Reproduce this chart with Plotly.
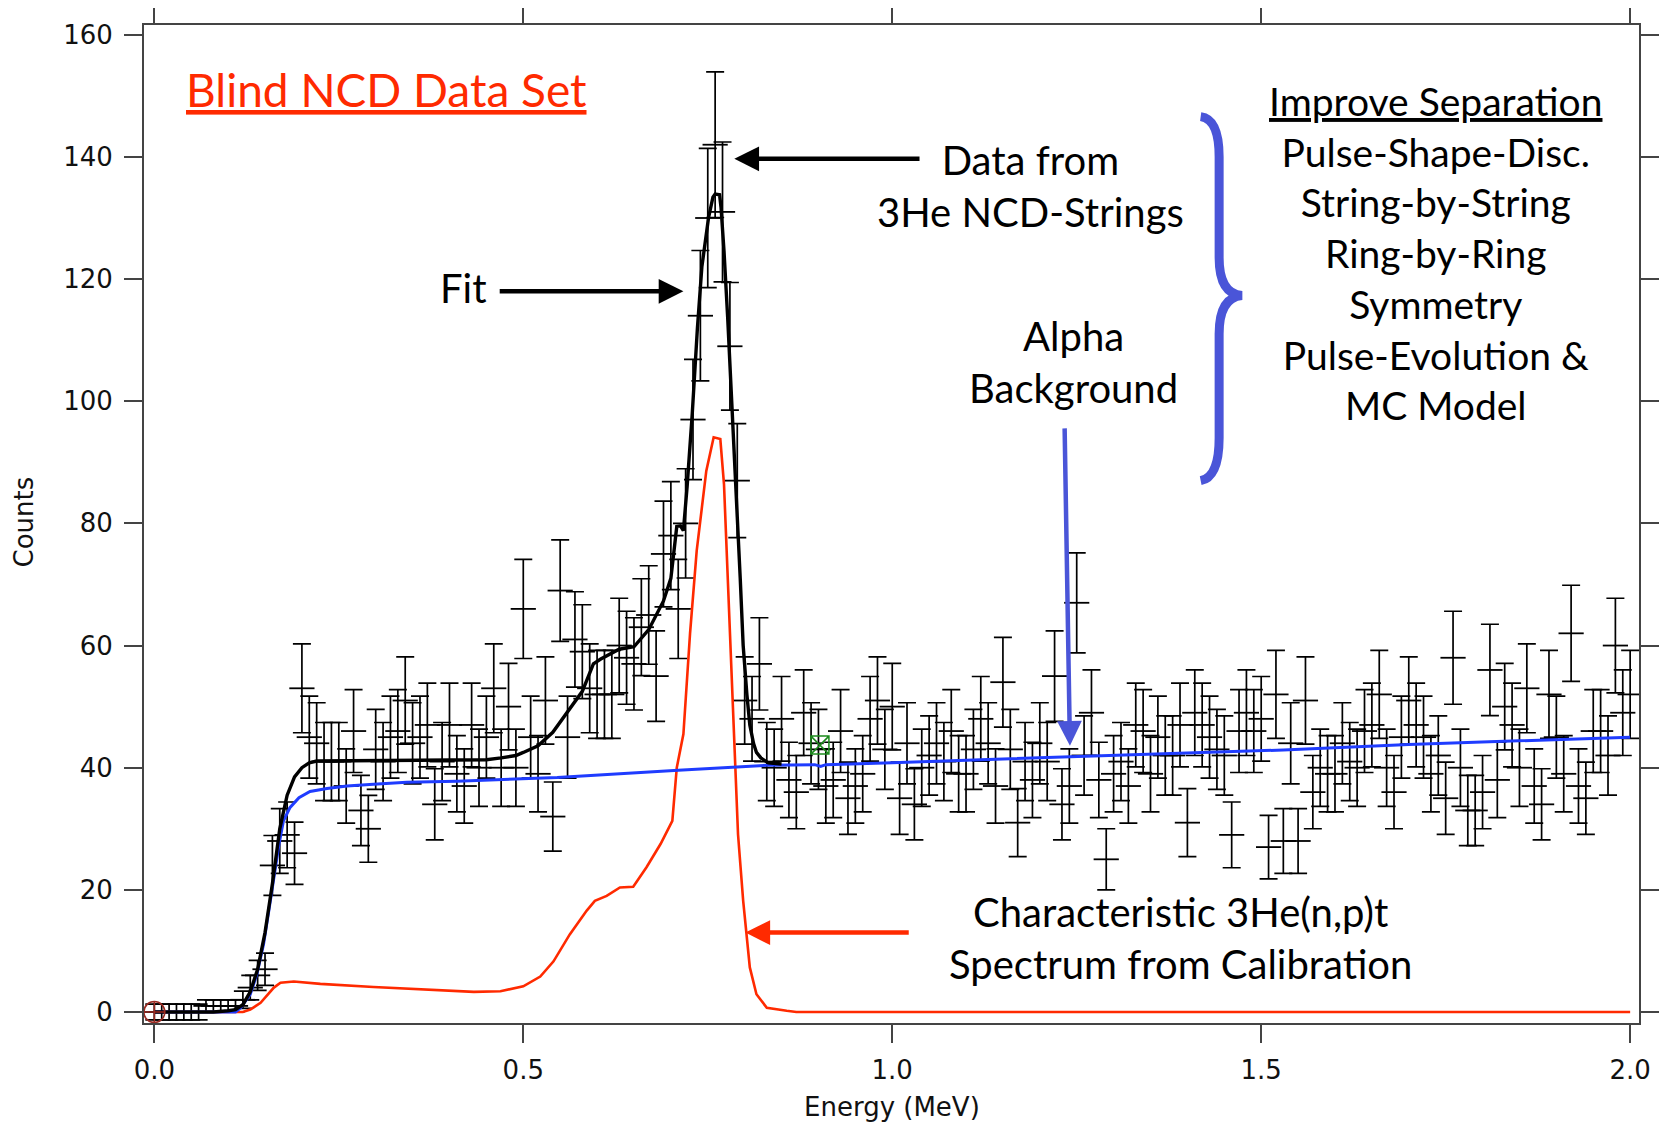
import numpy as np
import plotly.graph_objects as go

# ---------------- data ----------------
energy = [round(0.01 * k, 2) for k in range(201)]  # bin positions, MeV
counts = [
    0, 0, 0, 0, 0, 0, 0, 1, 1, 1,            # 0.00-0.09
    1, 1, 2, 4, 6, 7, 24, 28, 29, 26,        # 0.10-0.19
    53, 45, 44, 41, 41, 41, 37, 46, 33, 30,  # 0.20-0.29
    43, 41, 45, 46, 51, 44, 45, 47, 34, 41,  # 0.30-0.39
    47, 39, 37, 47, 40, 45, 53, 40, 50, 40,  # 0.40-0.49
    66, 45, 39, 51, 32, 69, 45, 61, 59, 53,  # 0.50-0.59
    52, 52, 52, 60, 58, 57, 63, 65, 55, 75,  # 0.60-0.69
    78, 66, 80, 97, 114, 130, 142, 131, 109, 87,  # 0.70-0.79
    51, 48, 57, 41, 40, 48, 38, 36, 49, 44,  # 0.80-0.89
    43, 37, 38, 46, 35, 37, 39, 48, 51, 43,  # 0.90-0.99
    50, 35, 44, 34, 40, 42, 44, 41, 46, 39,  # 1.00-1.09
    39, 43, 48, 44, 37, 54, 43, 31, 41, 38,  # 1.10-1.19
    44, 41, 55, 34, 37, 67, 42, 49, 38, 25,  # 1.20-1.29
    39, 41, 37, 47, 46, 39, 45, 42, 42, 47,  # 1.30-1.39
    31, 49, 47, 45, 43, 42, 29, 46, 49, 46,  # 1.40-1.49
    48, 27, 52, 28, 44, 28, 51, 36, 40, 39,  # 1.50-1.59
    39, 44, 41, 40, 46, 47, 52, 40, 36, 45,  # 1.60-1.69
    51, 47, 45, 39, 42, 35, 58, 40, 33, 33,  # 1.70-1.79
    36, 56, 38, 50, 47, 40, 53, 37, 34, 52,  # 1.80-1.89
    45, 39, 62, 37, 35, 46, 46, 42, 60, 49,  # 1.90-1.99
    52,                                      # 2.00
]

# Fit (black)
fit_e = [0.00, 0.08, 0.10, 0.11, 0.12, 0.13, 0.14, 0.15, 0.16, 0.17, 0.18, 0.19,
         0.20, 0.21, 0.22, 0.30, 0.40, 0.45, 0.47, 0.49, 0.50, 0.52, 0.54, 0.56,
         0.58, 0.595, 0.605, 0.63, 0.65, 0.67, 0.69, 0.70, 0.705, 0.708, 0.713,
         0.717, 0.722, 0.729, 0.736, 0.742, 0.751, 0.757, 0.760, 0.766, 0.768,
         0.772, 0.777, 0.781, 0.785, 0.790, 0.794, 0.798, 0.803, 0.807, 0.812,
         0.816, 0.822, 0.832, 0.85]
fit_y = [0, 0, 0.2, 0.4, 1.2, 3.3, 7, 13, 21, 30, 35.5, 38.5,
         40, 40.8, 41.1, 41.2, 41.2, 41.3, 41.6, 42, 42.5, 43.6, 45.8, 49.2,
         52.5, 57, 57.8, 59.4, 59.8, 62.6, 67.3, 71, 76, 79.5, 79.6,
         78.8, 86, 98, 112, 122, 130, 133.4, 133.9, 133.8, 131.7,
         124.6, 113.7, 102.8, 92, 81, 71, 60, 52, 47, 44,
         42.5, 41.6, 40.8, 40.6]

# Alpha background (blue)
bg_e = [0.00, 0.11, 0.117, 0.13, 0.139, 0.148, 0.155, 0.162, 0.169, 0.175, 0.184,
        0.196, 0.211, 0.234, 0.261, 0.297, 0.342, 0.41, 0.478, 0.546, 0.71, 0.83,
        0.895, 0.903, 0.91, 1.0, 1.14, 1.25, 1.41, 1.53, 1.70, 2.0]
bg_y = [0, 0, 0.7, 2.9, 6.2, 11.1, 16.5, 22, 27.5, 31.3, 33.5,
        35.1, 36.1, 36.6, 37.0, 37.3, 37.6, 37.8, 38.1, 38.4, 39.6, 40.4,
        40.5, 40.2, 40.5, 40.8, 41.4, 41.8, 42.5, 42.9, 43.8, 45.0]

# Calibration spectrum (red)
cal_e = [0.00, 0.12, 0.13, 0.144, 0.162, 0.171, 0.189, 0.225, 0.297, 0.388, 0.433,
         0.469, 0.50, 0.523, 0.541, 0.563, 0.586, 0.597, 0.613, 0.631, 0.649,
         0.667, 0.686, 0.702, 0.705, 0.708, 0.717, 0.726, 0.735, 0.742, 0.748,
         0.758, 0.767, 0.772, 0.778, 0.785, 0.791, 0.798, 0.807, 0.816, 0.830,
         0.857, 0.87, 2.0]
cal_y = [0, 0, 0.4, 1.5, 4, 4.8, 5, 4.6, 4.1, 3.6, 3.3,
         3.4, 4.2, 5.8, 8.3, 12.7, 16.6, 18.2, 19, 20.4, 20.5,
         23.7, 27.5, 31.3, 36.2, 40, 45.5, 62, 75.5, 82.5, 88.6,
         94.1, 93.8, 86.4, 68, 45.5, 29.1, 18.2, 7.3, 2.9, 0.7,
         0.2, 0, 0]

cursor_a = (0.0, 0.0)     # red circle cursor
cursor_b = (0.902, 43.7)  # green square cursor

x_ticks = [0.0, 0.5, 1.0, 1.5, 2.0]
y_ticks = [0, 20, 40, 60, 80, 100, 120, 140, 160]

# ---------------- figure ----------------
cnt = np.array(counts, dtype=float)
err = np.where(cnt > 0, np.sqrt(cnt), 1.3)

AX_FONT = dict(family="DejaVu Sans", size=26, color="#111")
TXT = "Lato"

fig = go.Figure()

fig.add_trace(go.Scatter(
    x=energy, y=counts, mode="markers",
    marker=dict(symbol="line-ew", size=18, color="black",
                line=dict(width=1.8, color="black")),
    error_y=dict(type="data", array=err, visible=True, color="black",
                 thickness=1.7, width=9),
    showlegend=False, hoverinfo="skip"))

fig.add_trace(go.Scatter(x=cal_e, y=cal_y, mode="lines",
                         line=dict(color="#ff2a00", width=2.6), showlegend=False))
fig.add_trace(go.Scatter(x=bg_e, y=bg_y, mode="lines",
                         line=dict(color="#1f3cff", width=3), showlegend=False))
fig.add_trace(go.Scatter(x=fit_e, y=fit_y, mode="lines",
                         line=dict(color="black", width=3.4), showlegend=False))

fig.add_trace(go.Scatter(x=[cursor_a[0]], y=[cursor_a[1]], mode="markers",
                         marker=dict(symbol="circle-cross-open", size=21, color="#9a2a22",
                                     line=dict(width=1.6)), showlegend=False))
fig.add_trace(go.Scatter(x=[cursor_b[0]], y=[cursor_b[1]], mode="markers",
                         marker=dict(symbol="square-x-open", size=18, color="#1c8a1c",
                                     line=dict(width=1.5)), showlegend=False))

axis_common = dict(showline=True, mirror="ticks", linecolor="#444", linewidth=2,
                   ticks="outside", ticklen=18, tickwidth=2, tickcolor="#444",
                   showgrid=False, zeroline=False, tickfont=AX_FONT,
                   automargin=False)

fig.update_xaxes(range=[-0.014, 2.012], tickvals=x_ticks,
                 ticktext=[f"{v:.1f}" for v in x_ticks], ticklabelstandoff=5,
                 **axis_common)
fig.update_yaxes(range=[-1.8, 161.6], tickvals=y_ticks, ticklabelstandoff=6,
                 **axis_common)

ann = []
# axis titles
ann.append(dict(xref="paper", yref="paper", x=-0.0805, y=0.5022, text="Counts",
                xanchor="center", yanchor="middle",
                textangle=-90, showarrow=False, font=AX_FONT))
ann.append(dict(xref="paper", yref="paper", x=0.5004, y=-0.0845, text="Energy (MeV)",
                xanchor="center", yanchor="middle",
                showarrow=False, font=AX_FONT))

# text labels
ann.append(dict(x=0.0407, y=151.0, xanchor="left", yanchor="middle",
                text="<u>Blind NCD Data Set</u>", showarrow=False,
                font=dict(family=TXT, size=46, color="#ff2a00")))
ann.append(dict(x=1.187, y=135.2, text="Data from<br>3He NCD-Strings",
                showarrow=False, align="center",
                font=dict(family=TXT, size=40, color="black")))
ann.append(dict(x=0.4187, y=118.6, text="Fit", showarrow=False,
                font=dict(family=TXT, size=40, color="black")))
ann.append(dict(x=1.245, y=106.5, text="Alpha<br>Background", showarrow=False,
                align="center", font=dict(family=TXT, size=40, color="black")))
ann.append(dict(x=1.7358, y=124.2, showarrow=False, align="center",
                text=("<u>Improve Separation</u><br>Pulse-Shape-Disc.<br>String-by-String"
                      "<br>Ring-by-Ring<br>Symmetry<br>Pulse-Evolution &amp;<br>MC Model"),
                font=dict(family=TXT, size=39, color="black")))
ann.append(dict(x=1.390, y=12.1, showarrow=False, align="center",
                text="Characteristic 3He(n,p)t<br>Spectrum from Calibration",
                font=dict(family=TXT, size=40, color="black")))

# arrows
def arrow(hx, hy, tx, ty, color):
    return dict(x=hx, y=hy, ax=tx, ay=ty, xref="x", yref="y", axref="x", ayref="y",
                text="", showarrow=True, arrowhead=2, arrowsize=1.1,
                arrowwidth=4.5, arrowcolor=color, standoff=0)

ann.append(arrow(0.786, 139.7, 1.039, 139.7, "black"))
ann.append(arrow(0.717, 118.0, 0.466, 118.0, "black"))
ann.append(arrow(1.2408, 43.6, 1.2336, 95.8, "#4a55d8"))
ann.append(arrow(0.801, 13.0, 1.0244, 13.0, "#ff2a00"))

fig.update_layout(
    width=1669, height=1122,
    margin=dict(l=135.7, r=38.0, t=17.0, b=107.3, autoexpand=False),
    paper_bgcolor="white", plot_bgcolor="white",
    annotations=ann,
    shapes=[dict(type="path", xref="x", yref="y",
                 path=("M 1.418,146.6 Q 1.443,146.2 1.443,140 L 1.443,123.5 "
                       "Q 1.443,117.6 1.474,117.3 Q 1.443,117.0 1.443,111 "
                       "L 1.443,94 Q 1.443,87.6 1.418,87.0"),
                 line=dict(color="#4a55d8", width=9))],
)

fig.write_html("out.html")
